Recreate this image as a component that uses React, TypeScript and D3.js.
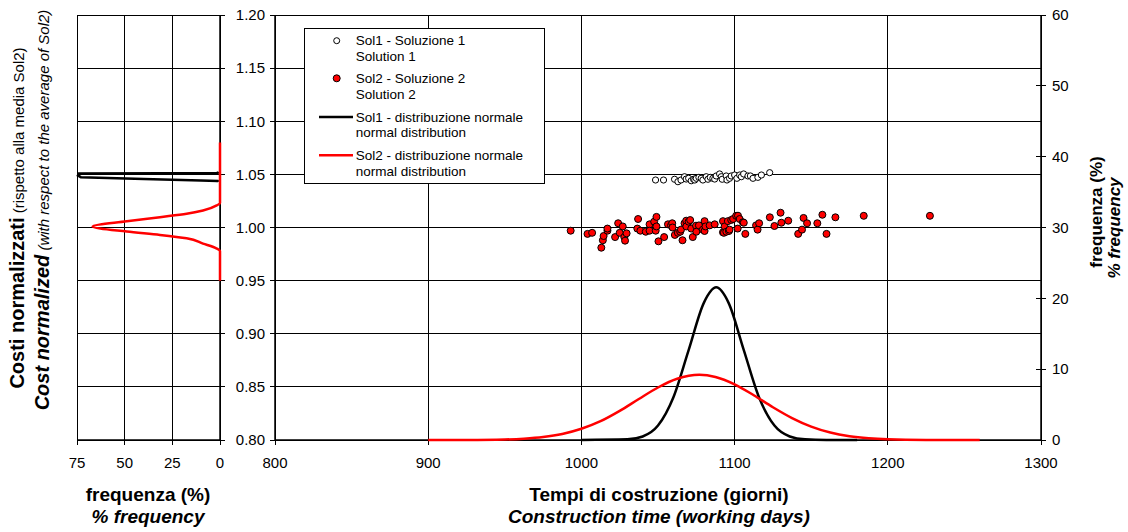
import React from "react";
import * as d3 from "d3";

// ---------- data ----------
const xTicksMain = [800, 900, 1000, 1100, 1200, 1300];
const yTicksCost = [0.8, 0.85, 0.9, 0.95, 1.0, 1.05, 1.1, 1.15, 1.2];
const yTicksFreq = [0, 10, 20, 30, 40, 50, 60];
const xTicksLeft = [75, 50, 25, 0];

// Sol1 scatter (days, normalized cost)
const sol1Days = [1048.4, 1053.6, 1060.8, 1063, 1065, 1067.3, 1068.4, 1070, 1071.7, 1073.2, 1074, 1075, 1076.7, 1078.2, 1079.3, 1081.5, 1082.6, 1084.1, 1085.8, 1087, 1088, 1090.2, 1091.3, 1091.9, 1094.5, 1095, 1096.7, 1097.8, 1100, 1101.5, 1103.3, 1104.4, 1105.9, 1108.7, 1110.3, 1112, 1115.2, 1117.5, 1122.9];
const sol1Costs = [1.0447, 1.0447, 1.0454, 1.0431, 1.0447, 1.0478, 1.0456, 1.0463, 1.044, 1.0454, 1.0447, 1.0463, 1.0472, 1.0463, 1.0447, 1.0478, 1.0454, 1.0472, 1.0463, 1.0456, 1.0485, 1.0504, 1.0478, 1.0454, 1.0485, 1.0447, 1.0463, 1.0485, 1.0494, 1.0463, 1.0494, 1.0478, 1.0504, 1.0485, 1.0485, 1.0463, 1.0472, 1.0494, 1.0516];

// Sol2 scatter
const sol2Days = [993, 1004, 1007, 1013, 1014, 1014.5, 1017, 1017, 1022, 1024, 1025, 1027, 1028, 1029.5, 1028.5, 1037, 1036.5, 1038.5, 1042, 1044.5, 1044.5, 1047.5, 1049, 1048.5, 1049, 1050.3, 1054, 1056.5, 1058.5, 1059.3, 1059.5, 1061, 1063, 1064.5, 1065, 1066, 1067.3, 1068.4, 1068.5, 1070, 1071, 1071.7, 1072.7, 1074.8, 1075, 1076.7, 1079.3, 1080.4, 1080.4, 1081, 1083.7, 1087, 1092.4, 1092.4, 1093.5, 1093, 1094.6, 1095.6, 1096.3, 1096.7, 1097.8, 1099, 1101, 1102, 1102.2, 1103.3, 1105.4, 1106, 1107, 1114, 1115, 1116, 1123, 1126, 1130, 1130.5, 1135, 1141.5, 1144, 1145, 1147.3, 1154, 1157.3, 1160, 1165.8, 1184.3, 1227.5];
const sol2Costs = [0.997, 0.994, 0.995, 0.981, 0.988, 0.992, 0.997, 0.999, 0.991, 1.004, 0.995, 1.001, 0.991, 0.9945, 0.9876, 1.008, 0.999, 0.997, 0.996, 1.003, 0.997, 1.0055, 1.01, 0.997, 1.001, 0.987, 0.991, 1.003, 1.002, 1.004, 1.0, 0.993, 0.995, 0.996, 0.998, 0.988, 1.004, 1.0064, 1.001, 1.0055, 1.007, 0.999, 0.991, 1.0017, 0.996, 1.002, 0.998, 1.006, 0.9967, 1.001, 1.002, 1.003, 1.006, 0.9955, 1.001, 0.995, 0.996, 1.006, 0.9967, 0.998, 1.0071, 1.008, 1.011, 0.999, 1.0111, 1.008, 1.0049, 1.0045, 0.994, 1.002, 0.998, 1.004, 1.0096, 1.0014, 1.0139, 1.0045, 1.0064, 0.994, 0.998, 1.009, 1.004, 1.004, 1.012, 0.994, 1.0096, 1.011, 1.011];

// normal distributions vs construction time (days, % frequency)
const sol1DistDays = [1000, 1030, 1040, 1050, 1060, 1070, 1080, 1088, 1096, 1106, 1116, 1126, 1136, 1146, 1160, 1180];
const sol1DistFreq = [0, 0.09, 0.5, 2.04, 6.0, 12.7, 19.4, 21.55, 19.4, 12.7, 6.0, 2.04, 0.5, 0.09, 0.01, 0];
const sol2DistDays = [900, 925, 950, 962.5, 975, 987.5, 1000, 1012.5, 1025, 1037.5, 1050, 1062.5, 1077, 1087.5, 1100, 1112.5, 1125, 1137.5, 1150, 1162.5, 1175, 1187.5, 1200, 1225, 1260];
const sol2DistFreq = [0, 0.01, 0.075, 0.19, 0.42, 0.85, 1.58, 2.65, 4.11, 5.79, 7.41, 8.64, 9.2, 8.9, 7.86, 6.32, 4.63, 3.1, 1.89, 1.05, 0.53, 0.24, 0.1, 0.014, 0];

// normal distributions vs cost (% frequency, normalized cost)
const sol1CostFreq = [1, 1.2, 30, 74, 74.5, 73, 40, 10, 1.2, 1];
const sol1CostVals = [1.0525, 1.0513, 1.0511, 1.0508, 1.049, 1.0474, 1.0457, 1.0442, 1.0437, 1.0428];
const sol2CostFreq = [0, 0, 1.7, 8.9, 17.5, 31.5, 48.9, 66.8, 48.9, 31.5, 17.5, 8.9, 1.7, 0, 0];
const sol2CostVals = [1.08, 1.0231, 1.0208, 1.016, 1.0129, 1.0097, 1.0058, 1.001, 0.9962, 0.993, 0.9898, 0.9848, 0.9802, 0.9777, 0.95];

const legendLabels = [
  ["Sol1 - Soluzione 1", "Solution 1"],
  ["Sol2 - Soluzione 2", "Solution 2"],
  ["Sol1 - distribuzione normale", "normal distribution"],
  ["Sol2 - distribuzione normale", "normal distribution"],
];

// ---------- layout ----------
const W = 1128, H = 532;
const FONT = "'Liberation Sans', Arial, Helvetica, sans-serif";
const M = { left: 275, right: 1041, top: 15, bottom: 440 };
const LP = { left: 77, right: 220 };

export default function App() {
  const x = d3.scaleLinear().domain([800, 1300]).range([M.left, M.right]);
  const y = d3.scaleLinear().domain([0.8, 1.2]).range([M.bottom, M.top]);
  const yf = d3.scaleLinear().domain([0, 60]).range([M.bottom, M.top]);
  const xl = d3.scaleLinear().domain([75, 0]).range([LP.left, LP.right]);

  const mainLine = d3.line<[number, number]>().x(d => x(d[0])).y(d => yf(d[1])).curve(d3.curveMonotoneX);
  const leftLineRed = d3.line<[number, number]>().x(d => xl(d[0])).y(d => y(d[1])).curve(d3.curveMonotoneY);
  const leftLineBlack = d3.line<[number, number]>().x(d => xl(d[0])).y(d => y(d[1]));

  const s1Dist = sol1DistDays.map((d, i) => [d, sol1DistFreq[i]] as [number, number]);
  const s2Dist = sol2DistDays.map((d, i) => [d, sol2DistFreq[i]] as [number, number]);
  const s1Cost = sol1CostFreq.map((f, i) => [f, sol1CostVals[i]] as [number, number]);
  const s2Cost = sol2CostFreq.map((f, i) => [f, sol2CostVals[i]] as [number, number]);

  const legX = 304, legY = 28, legW = 240, legH = 155;
  const rowY = [40.7, 78.3, 117, 155.3];

  return (
    <svg width={W} height={H} style={{ position: "absolute", left: 0, top: 0, background: "#fff" }} fontFamily={FONT}>
      <rect x={0} y={0} width={W} height={H} fill="#fff" />
      <g shapeRendering="crispEdges">
        {yTicksCost.map(t => (
          <line key={"lg" + t} x1={LP.left} x2={LP.right} y1={y(t)} y2={y(t)} stroke="#000" strokeWidth={1} />
        ))}
        {xTicksLeft.map(t => (
          <line key={"lv" + t} x1={xl(t)} x2={xl(t)} y1={M.top} y2={M.bottom} stroke="#000" strokeWidth={1} />
        ))}
        {yTicksCost.map(t => (
          <line key={"mg" + t} x1={M.left} x2={M.right} y1={y(t)} y2={y(t)} stroke="#000" strokeWidth={1} />
        ))}
        {xTicksMain.map(t => (
          <line key={"mv" + t} x1={x(t)} x2={x(t)} y1={M.top} y2={M.bottom} stroke="#000" strokeWidth={1} />
        ))}
      </g>
      <g stroke="#000" strokeWidth={1.5}>
        <line x1={LP.right} x2={LP.right} y1={M.top} y2={M.bottom} />
        <line x1={LP.left} x2={LP.right} y1={M.bottom} y2={M.bottom} />
        <line x1={M.left} x2={M.left} y1={M.top} y2={M.bottom} />
        <line x1={M.right} x2={M.right} y1={M.top} y2={M.bottom} />
        <line x1={M.left} x2={M.right} y1={M.bottom} y2={M.bottom} />
      </g>
      <g stroke="#000" strokeWidth={1} shapeRendering="crispEdges">
        {yTicksCost.map(t => (
          <g key={"tk" + t}>
            <line x1={LP.right - 5} x2={LP.right + 5} y1={y(t)} y2={y(t)} />
            <line x1={M.left - 5} x2={M.left + 5} y1={y(t)} y2={y(t)} />
          </g>
        ))}
        {yTicksFreq.map(t => (
          <line key={"tf" + t} x1={M.right - 5} x2={M.right + 5} y1={yf(t)} y2={yf(t)} />
        ))}
        {xTicksMain.map(t => (
          <line key={"tx" + t} x1={x(t)} x2={x(t)} y1={M.bottom} y2={M.bottom + 5} />
        ))}
        {xTicksLeft.map(t => (
          <line key={"tl" + t} x1={xl(t)} x2={xl(t)} y1={M.bottom} y2={M.bottom + 5} />
        ))}
      </g>
      <g fontSize={15} fill="#000">
        {yTicksCost.map(t => (
          <text key={"yl" + t} x={265} y={y(t) + 5.3} textAnchor="end">{t.toFixed(2)}</text>
        ))}
        {yTicksFreq.map(t => (
          <text key={"fl" + t} x={1052} y={yf(t) + 5.3} textAnchor="start">{t}</text>
        ))}
        {xTicksMain.map(t => (
          <text key={"xl" + t} x={x(t)} y={468} textAnchor="middle">{t}</text>
        ))}
        {xTicksLeft.map(t => (
          <text key={"xll" + t} x={xl(t)} y={468} textAnchor="middle">{t}</text>
        ))}
      </g>
      <path d={leftLineBlack(s1Cost) || ""} fill="none" stroke="#000" strokeWidth={2.5} />
      <path d={leftLineRed(s2Cost) || ""} fill="none" stroke="#ff0000" strokeWidth={2.5} />
      <path d={mainLine(s1Dist) || ""} fill="none" stroke="#000" strokeWidth={2.5} />
      <path d={mainLine(s2Dist) || ""} fill="none" stroke="#ff0000" strokeWidth={2.5} />
      {sol2Days.map((d, i) => (
        <circle key={"s2" + i} cx={x(d)} cy={y(sol2Costs[i])} r={3.5} fill="#ff0000" stroke="#000" strokeWidth={1} />
      ))}
      {sol1Days.map((d, i) => (
        <circle key={"s1" + i} cx={x(d)} cy={y(sol1Costs[i])} r={3.1} fill="#fff" stroke="#000" strokeWidth={1} />
      ))}
      <g>
        <rect x={legX} y={legY} width={legW} height={legH} fill="#fff" stroke="#000" strokeWidth={1} shapeRendering="crispEdges" />
        <circle cx={336.7} cy={rowY[0]} r={3} fill="#fff" stroke="#000" strokeWidth={1} />
        <circle cx={336.7} cy={rowY[1]} r={3.5} fill="#ff0000" stroke="#000" strokeWidth={1} />
        <line x1={319} x2={353} y1={rowY[2]} y2={rowY[2]} stroke="#000" strokeWidth={2.5} />
        <line x1={319} x2={353} y1={rowY[3]} y2={rowY[3]} stroke="#ff0000" strokeWidth={2.5} />
        {legendLabels.map((lines, i) => (
          <g key={"lg" + i} fontSize={13.5}>
            <text x={355.7} y={rowY[i] + 4.7}>{lines[0]}</text>
            <text x={355.7} y={rowY[i] + 15.5 + 4.7}>{lines[1]}</text>
          </g>
        ))}
      </g>
      <g fill="#000">
        <text x={148} y={500.5} textAnchor="middle" fontSize={19} fontWeight="bold">frequenza (%)</text>
        <text x={148} y={523} textAnchor="middle" fontSize={19} fontWeight="bold" fontStyle="italic">% frequency</text>
        <text x={659} y={500.5} textAnchor="middle" fontSize={19} fontWeight="bold">Tempi di costruzione (giorni)</text>
        <text x={659} y={523} textAnchor="middle" fontSize={19} fontWeight="bold" fontStyle="italic">Construction time (working days)</text>
        <text transform="translate(23.5,218) rotate(-90)" textAnchor="middle">
          <tspan fontSize={20} fontWeight="bold">Costi normalizzati</tspan>
          <tspan fontSize={15}> (rispetto alla media Sol2)</tspan>
        </text>
        <text transform="translate(48.5,210) rotate(-90)" textAnchor="middle">
          <tspan fontSize={20} fontWeight="bold" fontStyle="italic">Cost normalized</tspan>
          <tspan fontSize={15} fontStyle="italic"> (with respect to the average of Sol2)</tspan>
        </text>
        <text transform="translate(1102,212) rotate(-90)" textAnchor="middle" fontSize={17} fontWeight="bold">frequenza (%)</text>
        <text transform="translate(1120,228) rotate(-90)" textAnchor="middle" fontSize={17} fontWeight="bold" fontStyle="italic">% frequency</text>
      </g>
    </svg>
  );
}
